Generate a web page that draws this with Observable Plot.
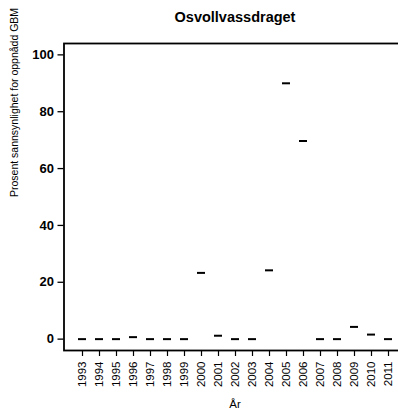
<!DOCTYPE html>
<html>
<head>
<meta charset="utf-8">
<script src="https://cdn.jsdelivr.net/npm/d3@7"></script>
<script src="https://cdn.jsdelivr.net/npm/@observablehq/plot@0.6"></script>
<style>
  html, body { margin: 0; padding: 0; background: #fff; overflow: hidden; width: 398px; height: 410px; }
  #chart { width: 410px; }
  #chart svg { display: block; max-width: none !important; width: 410px; height: 410px; }
</style>
</head>
<body>
<div id="chart"></div>
<script>
const title = "Osvollvassdraget";
const yLabel = "Prosent sannsynlighet for oppnådd GBM";
const xLabel = "År";
const years = ["1993","1994","1995","1996","1997","1998","1999","2000","2001","2002",
               "2003","2004","2005","2006","2007","2008","2009","2010","2011"];
const values = [0, 0, 0, 0.7, 0, 0, 0, 23.3, 1.2, 0,
                0, 24.2, 90, 69.7, 0, 0, 4.3, 1.6, 0];
const yTicks = [0, 20, 40, 60, 80, 100];

const data = years.map((y, i) => ({year: y, value: values[i]}));
const font = "'Liberation Sans', Arial, Helvetica, sans-serif";

const chart = Plot.plot({
  width: 410,
  height: 410,
  marginTop: 43,
  marginBottom: 60,
  marginLeft: 63.5,
  marginRight: 4.5,
  style: {fontFamily: font, background: "#fff", color: "#000"},
  x: {type: "band", domain: years, paddingInner: 0.54, paddingOuter: 0.56},
  y: {domain: [-4, 104]},
  marks: [
    Plot.frame({stroke: "#000", strokeWidth: 1.8}),
    Plot.axisY({ticks: yTicks, tickSize: 6, tickPadding: 4, fontSize: 13, fontWeight: "bold", label: null, strokeWidth: 1.3}),
    Plot.axisX({tickRotate: -90, tickSize: 6, tickPadding: 5, fontSize: 11.5, label: null, strokeWidth: 1.2}),
    Plot.tickY(data, {x: "year", y: "value", stroke: "#000", strokeWidth: 2}),
    Plot.text([title], {frameAnchor: "top", dy: -22, lineAnchor: "bottom", fontSize: 14.5, fontWeight: "bold"}),
    Plot.text([yLabel], {frameAnchor: "left", rotate: -90, dx: -49, fontSize: 10.5}),
    Plot.text([xLabel], {frameAnchor: "bottom", dy: 57, lineAnchor: "bottom", fontSize: 11.5})
  ]
});
document.getElementById("chart").appendChild(chart);
</script>
</body>
</html>
